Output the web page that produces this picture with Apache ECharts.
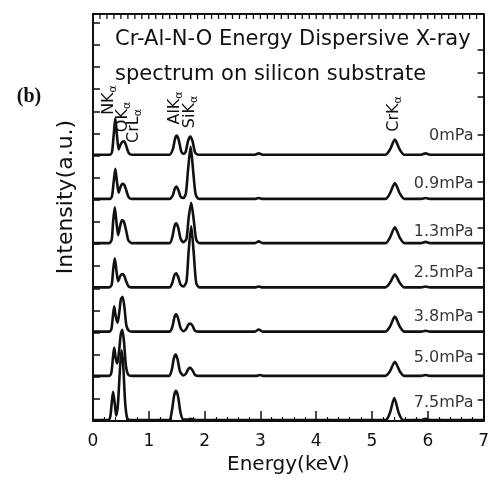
<!DOCTYPE html>
<html>
<head>
<meta charset="utf-8">
<script src="https://cdn.jsdelivr.net/npm/echarts@6/dist/echarts.min.js"></script>
<style>html,body{margin:0;padding:0;background:#fff}#c{width:492px;height:483px}</style>
</head>
<body>
<div id="c"></div>
<script>
// ---- data (energy keV, intensity a.u. above each baseline) ----
const pressures = ['0mPa', '0.9mPa', '1.3mPa', '2.5mPa', '3.8mPa', '5.0mPa', '7.5mPa'];
const offsets = [6, 5, 4, 3, 2, 1, 0];
const labelHeights = [0.45, 0.36, 0.27, 0.34, 0.36, 0.43, 0.41];
const rightTicks = [0.47, 1.51, 2.46, 3.46, 4.36, 5.40, 6.46, 7.32, 7.87, 8.39];
const xTickLabels = ['0', '1', '2', '3', '4', '5', '6', '7'];

const spec0 = [[0,0.02],[0.30,0.02],[0.34,0.08],[0.37,0.45],[0.40,0.84],[0.43,0.45],[0.46,0.14],[0.49,0.24],[0.525,0.31],[0.56,0.32],[0.60,0.20],[0.64,0.06],[0.70,0.02],[1.37,0.02],[1.43,0.14],[1.47,0.38],[1.50,0.45],[1.535,0.36],[1.58,0.10],[1.62,0.04],[1.66,0.08],[1.705,0.34],[1.745,0.43],[1.785,0.32],[1.83,0.07],[1.89,0.02],[2.90,0.02],[2.97,0.05],[3.04,0.02],[5.24,0.02],[5.32,0.13],[5.41,0.36],[5.50,0.13],[5.58,0.02],[5.88,0.02],[5.96,0.05],[6.04,0.02],[7.00,0.02]];
const spec09 = [[0,0.02],[0.30,0.02],[0.34,0.08],[0.37,0.40],[0.40,0.70],[0.43,0.40],[0.46,0.16],[0.49,0.28],[0.525,0.36],[0.56,0.34],[0.60,0.20],[0.64,0.06],[0.70,0.02],[1.37,0.02],[1.43,0.10],[1.465,0.25],[1.495,0.30],[1.53,0.22],[1.57,0.07],[1.62,0.04],[1.665,0.15],[1.705,0.70],[1.75,1.20],[1.795,0.65],[1.84,0.12],[1.90,0.02],[2.90,0.02],[2.97,0.04],[3.04,0.02],[5.24,0.02],[5.32,0.14],[5.41,0.38],[5.50,0.14],[5.58,0.02],[5.88,0.02],[5.96,0.04],[6.04,0.02],[7.00,0.02]];
const spec13 = [[0,0.02],[0.29,0.02],[0.335,0.10],[0.36,0.50],[0.39,0.83],[0.42,0.50],[0.45,0.20],[0.485,0.40],[0.52,0.54],[0.555,0.50],[0.595,0.30],[0.635,0.08],[0.70,0.02],[1.37,0.02],[1.42,0.15],[1.46,0.40],[1.49,0.47],[1.525,0.38],[1.57,0.12],[1.62,0.04],[1.675,0.12],[1.715,0.60],[1.76,0.93],[1.805,0.55],[1.85,0.10],[1.91,0.02],[2.90,0.02],[2.97,0.06],[3.04,0.02],[5.24,0.02],[5.32,0.14],[5.41,0.38],[5.50,0.14],[5.58,0.02],[5.88,0.02],[5.96,0.05],[6.04,0.02],[7.00,0.02]];
const spec25 = [[0,0.02],[0.29,0.02],[0.335,0.08],[0.36,0.40],[0.39,0.68],[0.42,0.40],[0.45,0.16],[0.49,0.28],[0.525,0.32],[0.56,0.28],[0.60,0.14],[0.64,0.04],[0.70,0.02],[1.37,0.02],[1.42,0.12],[1.46,0.30],[1.49,0.34],[1.525,0.26],[1.57,0.08],[1.62,0.04],[1.675,0.15],[1.715,0.85],[1.76,1.40],[1.805,0.80],[1.85,0.12],[1.91,0.02],[2.90,0.02],[2.97,0.04],[3.04,0.02],[5.24,0.02],[5.32,0.12],[5.41,0.31],[5.50,0.12],[5.58,0.02],[5.88,0.02],[5.96,0.04],[6.04,0.02],[7.00,0.02]];
const spec38 = [[0,0.02],[0.29,0.02],[0.33,0.08],[0.355,0.35],[0.38,0.59],[0.41,0.35],[0.44,0.22],[0.47,0.45],[0.50,0.75],[0.53,0.81],[0.565,0.55],[0.60,0.15],[0.65,0.03],[0.70,0.02],[1.37,0.02],[1.42,0.12],[1.46,0.35],[1.49,0.41],[1.525,0.32],[1.57,0.10],[1.62,0.03],[1.67,0.08],[1.71,0.18],[1.745,0.20],[1.785,0.15],[1.83,0.04],[1.90,0.02],[2.90,0.02],[2.97,0.07],[3.04,0.02],[5.24,0.02],[5.32,0.13],[5.41,0.36],[5.50,0.13],[5.58,0.02],[5.88,0.02],[5.96,0.04],[6.04,0.02],[7.00,0.02]];
const spec50 = [[0,0.02],[0.29,0.02],[0.33,0.10],[0.355,0.40],[0.38,0.66],[0.41,0.40],[0.435,0.30],[0.465,0.55],[0.50,0.98],[0.525,1.06],[0.555,0.80],[0.59,0.25],[0.63,0.05],[0.70,0.02],[1.36,0.02],[1.41,0.15],[1.45,0.42],[1.48,0.50],[1.515,0.40],[1.56,0.12],[1.62,0.03],[1.67,0.08],[1.71,0.18],[1.745,0.20],[1.785,0.14],[1.83,0.04],[1.90,0.02],[2.92,0.02],[2.99,0.04],[3.06,0.02],[5.24,0.02],[5.32,0.12],[5.41,0.34],[5.50,0.12],[5.58,0.02],[5.88,0.02],[5.96,0.04],[6.04,0.02],[7.00,0.02]];
const spec75 = [[0,0.02],[0.27,0.02],[0.31,0.10],[0.335,0.40],[0.36,0.66],[0.39,0.40],[0.415,0.12],[0.445,0.35],[0.48,1.10],[0.51,1.60],[0.54,1.30],[0.575,0.45],[0.615,0.06],[0.70,0.02],[1.36,0.02],[1.41,0.20],[1.455,0.58],[1.49,0.68],[1.525,0.55],[1.57,0.18],[1.62,0.03],[1.70,0.03],[1.745,0.05],[1.80,0.03],[1.90,0.02],[5.24,0.02],[5.32,0.18],[5.40,0.52],[5.48,0.18],[5.56,0.02],[5.88,0.02],[5.96,0.05],[6.04,0.02],[7.00,0.02]];
const spectra = [spec0, spec09, spec13, spec25, spec38, spec50, spec75];

const peakLabels = [
  {main: 'NK', sub: 'α', x: 109, y: 100},
  {main: 'OK', sub: 'α', x: 123, y: 117},
  {main: 'CrL', sub: 'α', x: 134, y: 126},
  {main: 'AlK', sub: 'α', x: 175, y: 108},
  {main: 'SiK', sub: 'α', x: 190, y: 112},
  {main: 'CrK', sub: 'α', x: 394, y: 114}
];

// top frame tick values: every 1/8 keV (axis decoration)
const topTickStep = 0.125;
const Y_MAX = 9.2;

// ---- chart ----
const FONT = 'DejaVu Sans';
const INK = '#111';
const chart = echarts.init(document.getElementById('c'), null, {renderer: 'canvas'});

const series = spectra.map((sp, i) => ({
  type: 'line',
  name: pressures[i],
  xAxisIndex: 0, yAxisIndex: 0,
  data: sp.map(p => [p[0], p[1] + offsets[i]]),
  showSymbol: false,
  smooth: 0.25,
  lineStyle: {color: INK, width: 2.6},
  silent: true
}));
series.push({
  type: 'scatter',
  xAxisIndex: 0, yAxisIndex: 0,
  symbolSize: 0,
  itemStyle: {color: INK},
  data: pressures.map((p, i) => ({name: p, value: [6.82, offsets[i] + labelHeights[i]]})),
  label: {show: true, position: 'left', distance: 0, formatter: '{b}', color: '#000', fontFamily: FONT, fontSize: 16},
  silent: true
});

const graphic = peakLabels.map(l => ({
  type: 'text', x: l.x, y: l.y, rotation: Math.PI / 2,
  style: {
    text: '{m|' + l.main + '}{s|' + l.sub + '}',
    align: 'center', verticalAlign: 'middle',
    rich: {
      m: {fontFamily: FONT, fontSize: 16, fill: INK, lineHeight: 20},
      s: {fontFamily: FONT, fontSize: 11, fill: INK, verticalAlign: 'bottom', lineHeight: 20, padding: [9, 0, 0, 0]}
    }
  }
}));
graphic.push(
  {type: 'text', x: 115, y: 40, style: {text: 'Cr-Al-N-O Energy Dispersive X-ray', fontFamily: FONT, fontSize: 21, fill: INK, align: 'left', verticalAlign: 'middle'}},
  {type: 'text', x: 115, y: 75, style: {text: 'spectrum on silicon substrate', fontFamily: FONT, fontSize: 21, fill: INK, align: 'left', verticalAlign: 'middle'}},
  {type: 'text', x: 29, y: 97, style: {text: '(b)', fontFamily: 'Liberation Serif', fontWeight: 'bold', fontSize: 20, fill: INK, align: 'center', verticalAlign: 'middle'}},
  {type: 'text', x: 66, y: 197, rotation: Math.PI / 2, style: {text: 'Intensity(a.u.)', fontFamily: FONT, fontSize: 22, fill: INK, align: 'center', verticalAlign: 'middle'}}
);

chart.setOption({
  animation: false,
  backgroundColor: '#fff',
  grid: {left: 93, right: 6, top: 14, bottom: 62, containLabel: false},
  xAxis: [
    {
      type: 'value', position: 'bottom', min: 0, max: 7, interval: 1,
      name: 'Energy(keV)', nameLocation: 'middle', nameGap: 33,
      nameTextStyle: {fontFamily: FONT, fontSize: 20, color: INK},
      axisLine: {show: true, onZero: false, lineStyle: {color: INK, width: 2}},
      axisTick: {show: true, inside: true, length: 10, lineStyle: {color: INK, width: 1.5}},
      minorTick: {show: true, splitNumber: 5, length: 4, lineStyle: {color: INK, width: 1.2}},
      axisLabel: {show: true, margin: 12, fontFamily: FONT, fontSize: 17, color: INK,
        formatter: v => xTickLabels[Math.round(v)]},
      splitLine: {show: false}
    },
    {
      type: 'value', position: 'top', min: 0, max: 7,
      axisLine: {show: true, onZero: false, lineStyle: {color: INK, width: 2}},
      axisTick: {show: false},
      axisLabel: {show: false},
      splitLine: {show: false}
    }
  ],
  yAxis: [
    {
      type: 'value', position: 'left', min: 0, max: Y_MAX, interval: 0.5,
      axisLine: {show: true, onZero: false, lineStyle: {color: INK, width: 2}},
      axisTick: {show: true, inside: true, length: 7, lineStyle: {color: INK, width: 1.5}},
      axisLabel: {show: false},
      splitLine: {show: false}
    },
    {
      type: 'value', position: 'right', min: 0, max: Y_MAX,
      axisLine: {show: true, onZero: false, lineStyle: {color: INK, width: 2}},
      axisTick: {show: true, inside: true, length: 6, customValues: rightTicks, lineStyle: {color: INK, width: 1.5}},
      axisLabel: {show: false, customValues: rightTicks},
      splitLine: {show: false}
    }
  ],
  series: series,
  graphic: graphic
});

// top-frame inward ticks, positioned through the chart's own scales
const topTickMarks = [];
for (let k = 1; k * topTickStep < 7 - 1e-9; k++) {
  const pt = chart.convertToPixel({gridIndex: 0}, [k * topTickStep, Y_MAX]);
  if (!pt) continue;
  topTickMarks.push({
    type: 'line', silent: true, z: 10,
    shape: {x1: pt[0], y1: pt[1], x2: pt[0], y2: pt[1] + 5},
    style: {stroke: INK, lineWidth: 1.3}
  });
}
chart.setOption({graphic: {elements: graphic.concat(topTickMarks)}});
</script>
</body>
</html>
